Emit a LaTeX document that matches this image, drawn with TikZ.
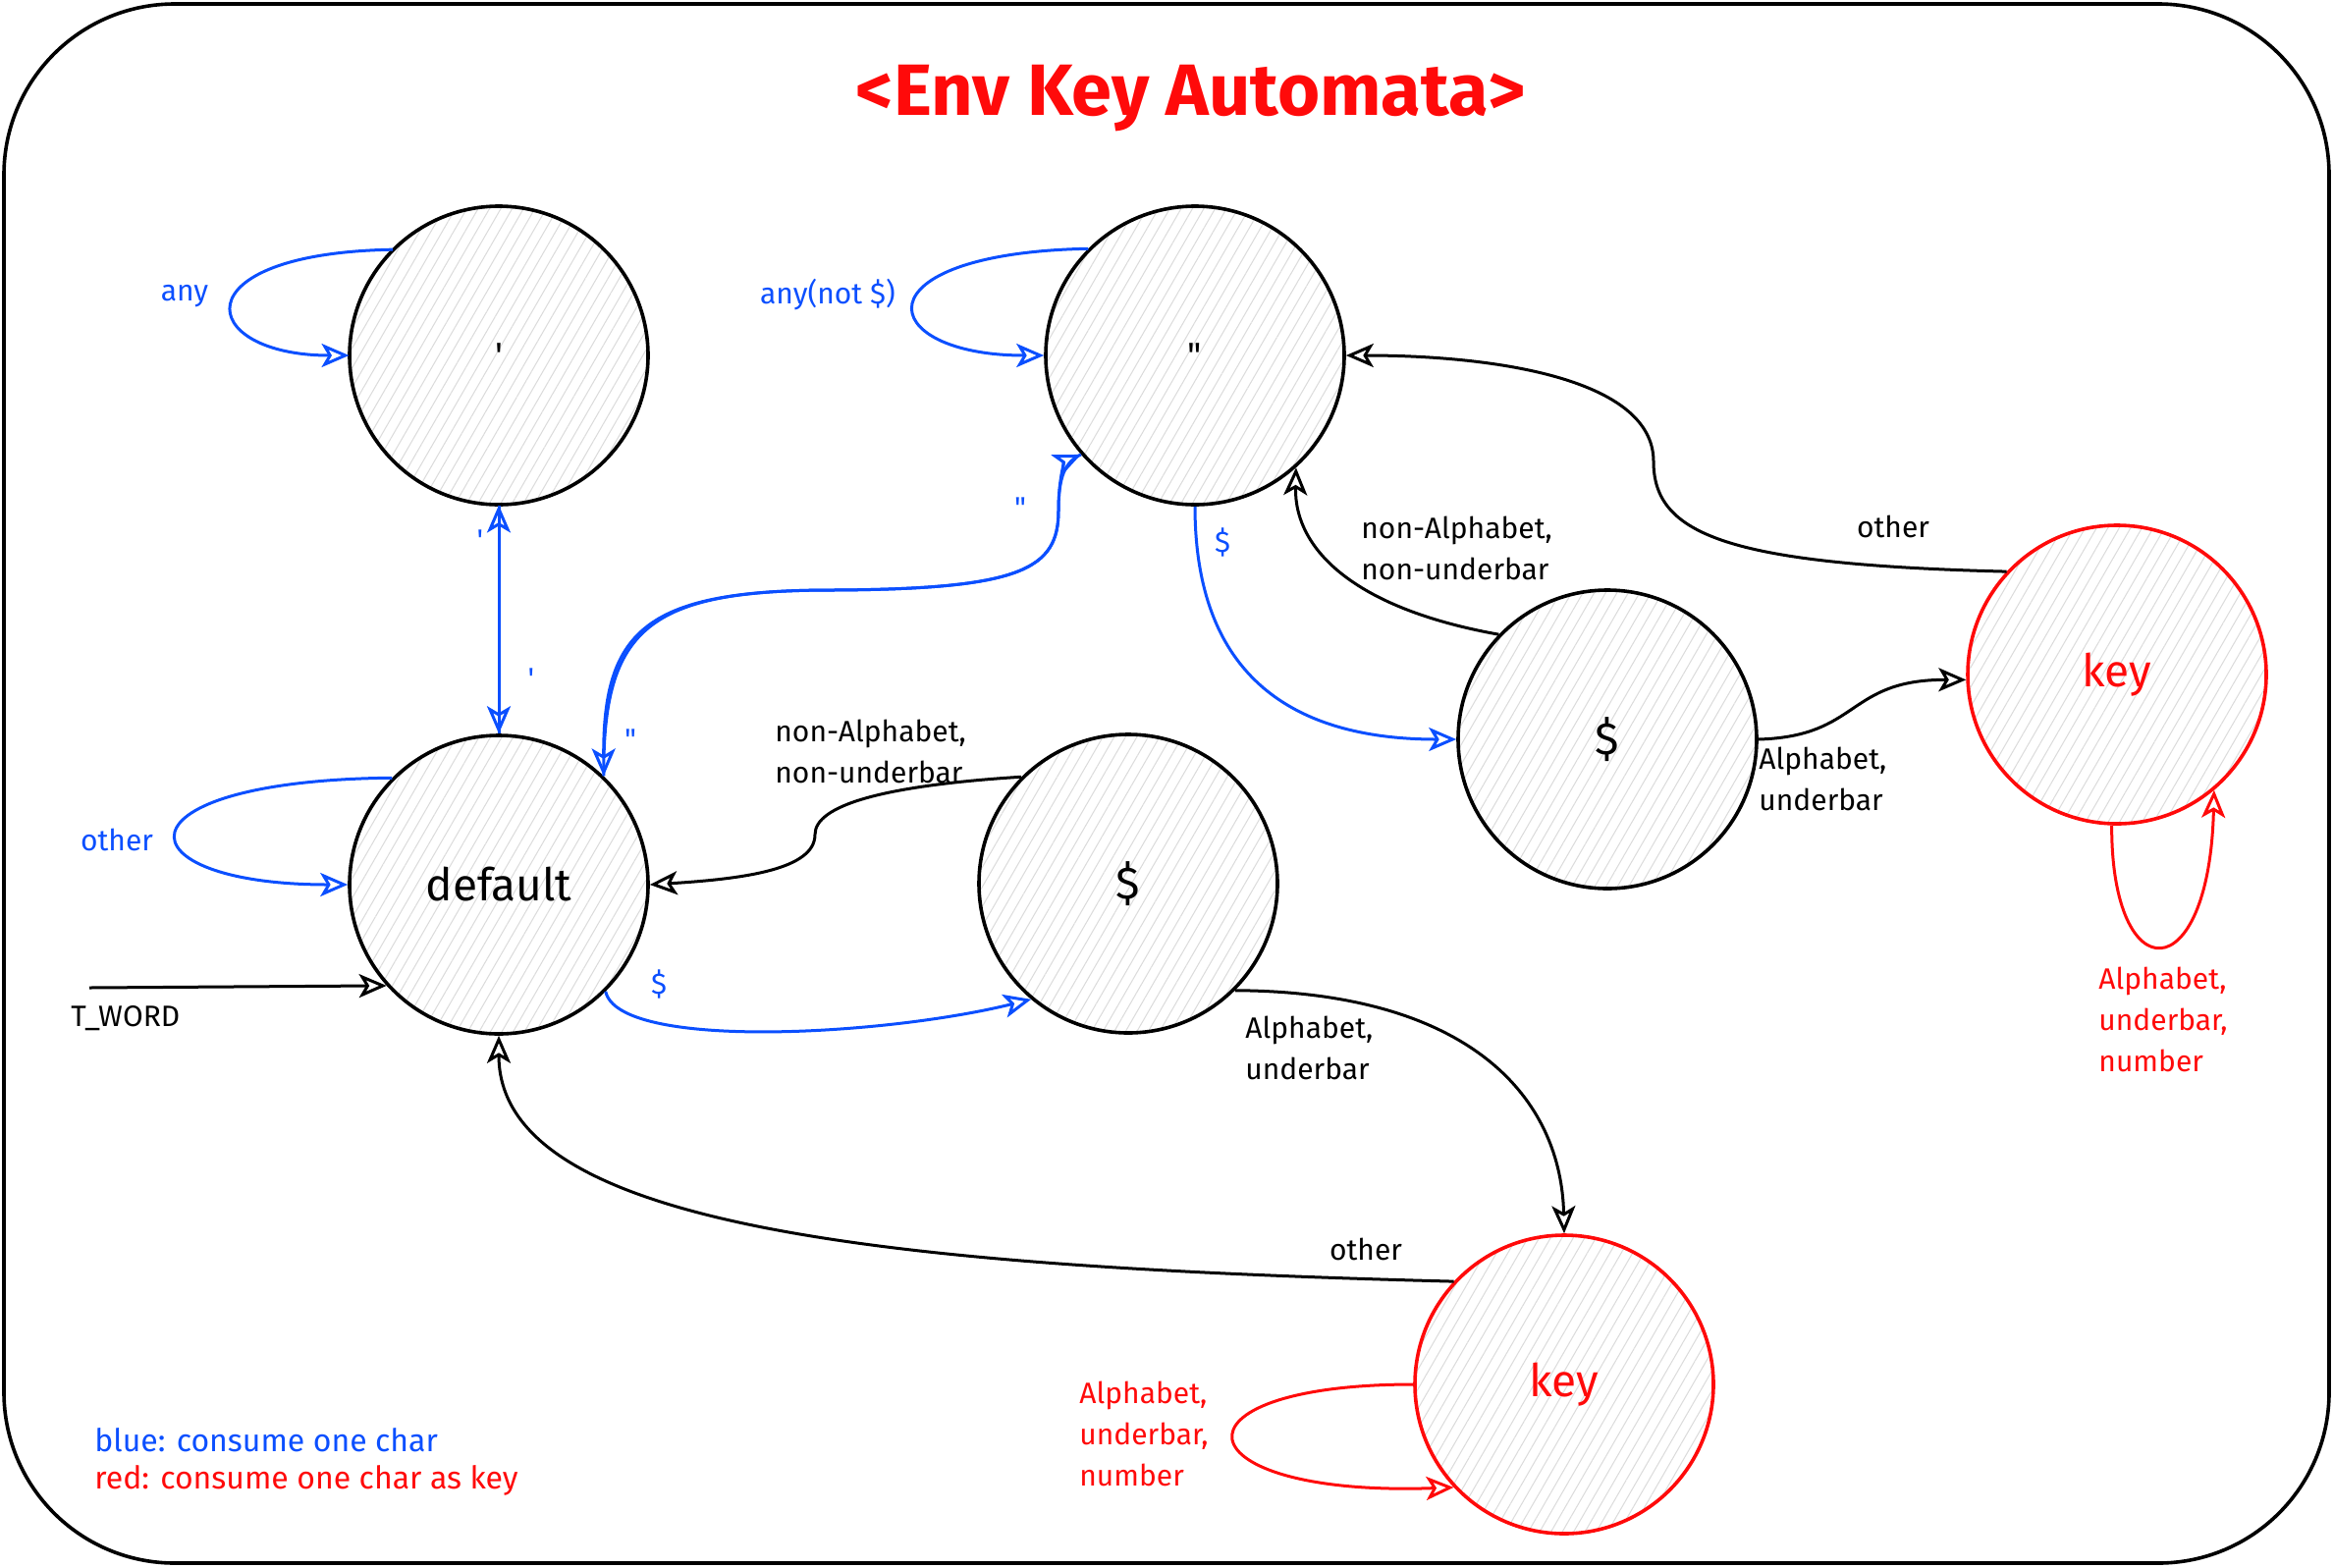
\documentclass[tikz,border=0pt]{standalone}
\usepackage{fontspec}
\setmainfont{Fira Sans}
\newfontfamily\plainq{Fira Sans}
\usetikzlibrary{arrows.meta,patterns.meta}
\definecolor{eblue}{HTML}{0B4FFF}
\definecolor{ered}{HTML}{FF0A0A}
\begin{document}
\begin{tikzpicture}[x=0.5pt,y=-0.5pt,
  state/.style={circle,draw=black,line width=1.8pt,minimum size=152pt,inner sep=0pt,
    preaction={fill=white},
    pattern={Lines[angle=60,distance=5pt,line width=0.5pt]},pattern color=black!14,
    font=\fontsize{23}{26}\selectfont},
  keystate/.style={state,draw=ered,text=ered},
  quotestate/.style={state,font=\plainq\fontsize{18}{20}\selectfont},
  edge/.style={line width=1.5pt,-{Stealth[open,length=14pt,width=12pt,inset=3.5pt]}},
  bedge/.style={edge,draw=eblue},
  redge/.style={edge,draw=ered},
  lbl/.style={font=\fontsize{15}{21}\selectfont,align=left,inner sep=0pt},
  blbl/.style={lbl,text=eblue},
  qlbl/.style={lbl,text=eblue,font=\plainq\fontsize{15}{21}\selectfont},
  rlbl/.style={lbl,text=ered},
  legend/.style={font=\fontsize{16}{20}\selectfont,inner sep=0pt,anchor=west},
]
\useasboundingbox (0,0) rectangle (2376,1596);
\draw[line width=1.8pt,rounded corners=87pt] (4,4) rectangle (2372,1592);

% title
\node[text=ered,font=\fontsize{37}{40}\selectfont\bfseries] (title) at (1213,100) {<Env Key Automata>};

% states
\node[quotestate] (sq) at (508,362) {'};
\node[quotestate] (dq) at (1217,362) {"};
\node[state] (def) at (508,901) {default};
\node[state] (dm) at (1149,900) {\$};
\node[state] (dr) at (1637,753) {\$};
\node[keystate] (kr) at (2156,687) {key};
\node[keystate] (kb) at (1593,1410) {key};

% self loops
\draw[bedge] (sq.135) .. controls (180,258) and (200,362) .. (sq.180);
\node[blbl] (lany) at (188,302) {any};
\draw[bedge] (dq.135) .. controls (870,258) and (890,362) .. (dq.180);
\node[blbl] (lanynot) at (843,300) {any(not \$)};
\draw[bedge] (def.135) .. controls (110,795) and (120,901) .. (def.180);
\node[blbl] (lother) at (119,855) {other};
\draw[redge] (kr.268) .. controls (2150,1010) and (2250,1010) .. (kr.310);
\node[rlbl,anchor=west] (lkr) at (2137,1038) {Alphabet,\\underbar,\\number};
\draw[redge] (kb.180) .. controls (1180,1410) and (1200,1525) .. (kb.223);
\node[rlbl,anchor=west] (lkb) at (1099,1460) {Alphabet,\\underbar,\\number};

% initial arrow
\coordinate (start) at (91,1006);
\draw[edge] (start) -- (def.222);
\node[lbl,anchor=west] (ltword) at (72,1037) {T\_WORD};

% ' <-> default
\draw[bedge] (def.90) -- (sq.270);
\draw[bedge] (sq.270) -- (def.90);
\node[qlbl] (lsq1) at (489,550) {'};
\node[qlbl] (lsq2) at (541,691) {'};

% " <-> default
\draw[bedge] (def.46) .. controls (614,640) and (660,601) .. (848,601)
  .. controls (1040,600) and (1078,580) .. (1078,520)
  .. controls (1078,485) and (1085,470) .. (dq.221);
\draw[bedge] (dq.221) .. controls (1085,470) and (1078,485) .. (1078,520)
  .. controls (1078,580) and (1040,600) .. (848,601)
  .. controls (660,601) and (614,640) .. (def.46);
\node[qlbl] (ldq1) at (1039,517) {"};
\node[qlbl] (ldq2) at (642,753) {"};

% " -> $ right
\draw[bedge] (dq.270) .. controls (1217,700) and (1330,753) .. (dr.180);
\node[blbl] (ldol1) at (1245,552) {\$};

% $ right -> "
\draw[edge] (dr.136) .. controls (1380,620) and (1318,560) .. (dq.312);
\node[lbl,anchor=west] (lna1) at (1386,558) {non-Alphabet,\\non-underbar};

% key right -> "
\draw[edge] (kr.137) .. controls (1760,575) and (1684,545) .. (1684,470)
  .. controls (1684,385) and (1520,362) .. (dq.0);
\node[lbl] (lother2) at (1928,536) {other};

% $ right -> key right
\draw[edge] (dr.0) .. controls (1895,750) and (1880,692) .. (kr.182);
\node[lbl,anchor=west] (lab1) at (1791,793) {Alphabet,\\underbar};

% default -> $ middle
\draw[bedge] (def.315) .. controls (630,1070) and (900,1055) .. (dm.230);
\node[blbl] (ldol2) at (671,1002) {\$};

% $ middle -> default
\draw[edge] (dm.135) .. controls (900,800) and (830,820) .. (830,850)
  .. controls (830,885) and (760,895) .. (def.0);
\node[lbl,anchor=west] (lna2) at (789,765) {non-Alphabet,\\non-underbar};

% $ middle -> key bottom
\draw[edge] (dm.315) .. controls (1500,1010) and (1590,1120) .. (kb.90);
\node[lbl,anchor=west] (lab2) at (1268,1067) {Alphabet,\\underbar};

% key bottom -> default
\draw[edge] (kb.137) .. controls (900,1290) and (508,1250) .. (def.270);
\node[lbl] (lother3) at (1391,1272) {other};

% legend
\node[legend,text=eblue] (leg1) at (96,1467) {blue: consume one char};
\node[legend,text=ered] (leg2) at (96,1508) {red: consume one char as key};
\end{tikzpicture}
\end{document}
